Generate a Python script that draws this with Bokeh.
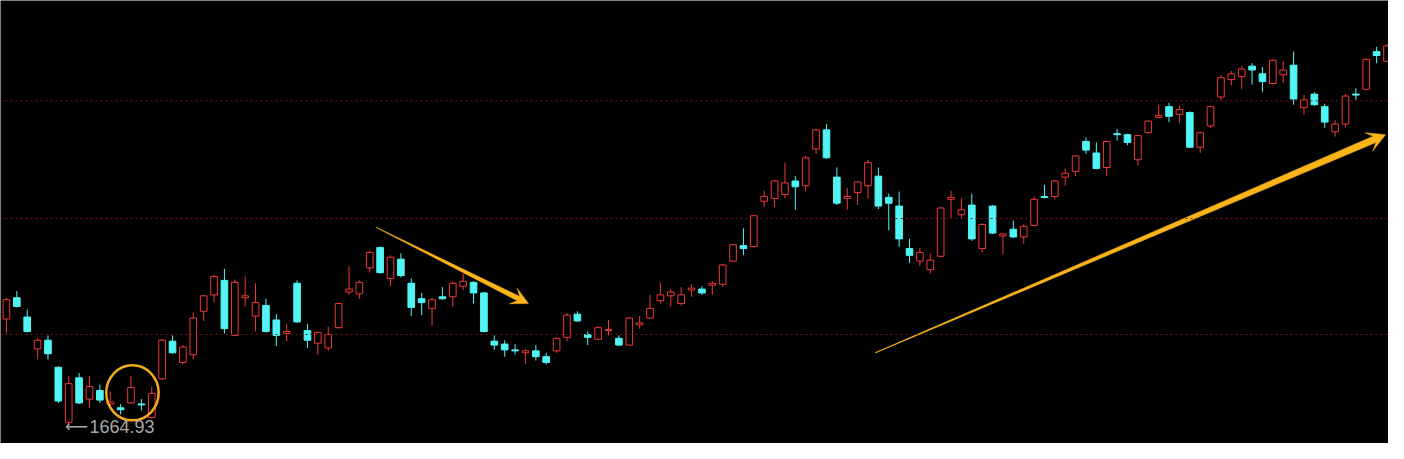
import math
from bokeh.plotting import figure
from bokeh.models import ColumnDataSource, Span, Range1d
from bokeh.embed import file_html
from bokeh.resources import INLINE
from bokeh.core.properties import value

# ---- candle data (index price) ----
opens = [1885, 1929, 1889, 1823, 1841, 1785, 1671, 1763, 1719, 1737,
         1709, 1701, 1711, 1709, 1681, 1761, 1839, 1795, 1811, 1901,
         1935, 1965, 1851, 1929, 1891, 1913, 1883, 1855, 1959, 1861,
         1835, 1825, 1867, 1941, 1937, 1991, 2033, 1969, 2009, 1959,
         1927, 1907, 1931, 1931, 1953, 1961, 1939, 1839, 1833, 1821,
         1815, 1819, 1807, 1819, 1847, 1895, 1853, 1843, 1861, 1845,
         1831, 1873, 1887, 1923, 1933, 1917, 1945, 1947, 1955, 1957,
         2005, 2037, 2035, 2129, 2135, 2143, 2171, 2161, 2237, 2277,
         2179, 2135, 2147, 2161, 2181, 2137, 2119, 2031, 2005, 1987,
         2015, 2133, 2101, 2121, 2031, 2119, 2057, 2071, 2055, 2079,
         2139, 2139, 2179, 2191, 2253, 2229, 2199, 2269, 2267, 2215,
         2271, 2303, 2325, 2309, 2313, 2241, 2285, 2345, 2381, 2387,
         2409, 2393, 2373, 2391, 2411, 2323, 2351, 2325, 2273, 2289,
         2351, 2361, 2439, 2419]
highs = [1929, 1943, 1905, 1845, 1851, 1787, 1767, 1773, 1767, 1749,
         1735, 1709, 1767, 1719, 1745, 1843, 1851, 1831, 1899, 1935,
         1977, 1989, 1967, 1973, 1959, 1927, 1895, 1875, 1965, 1875,
         1859, 1869, 1919, 1995, 1965, 2027, 2035, 2017, 2021, 1969,
         1939, 1929, 1951, 1963, 1979, 1963, 1941, 1851, 1841, 1833,
         1823, 1831, 1815, 1847, 1897, 1901, 1859, 1871, 1883, 1851,
         1889, 1891, 1935, 1961, 1947, 1951, 1957, 1953, 1963, 1999,
         2041, 2073, 2101, 2151, 2173, 2209, 2181, 2223, 2279, 2289,
         2199, 2157, 2171, 2215, 2199, 2145, 2149, 2051, 2033, 2021,
         2117, 2151, 2135, 2145, 2083, 2121, 2063, 2089, 2081, 2139,
         2163, 2173, 2197, 2225, 2261, 2251, 2255, 2279, 2269, 2267,
         2297, 2329, 2333, 2327, 2315, 2273, 2327, 2391, 2399, 2409,
         2415, 2407, 2423, 2419, 2439, 2349, 2355, 2331, 2297, 2351,
         2363, 2425, 2449, 2455]
lows = [1855, 1909, 1857, 1801, 1801, 1711, 1664.93, 1709, 1701, 1711,
        1703, 1687, 1709, 1695, 1679, 1759, 1813, 1791, 1801, 1881,
        1919, 1855, 1849, 1911, 1859, 1857, 1829, 1839, 1877, 1825,
        1811, 1819, 1865, 1935, 1927, 1981, 1979, 1953, 1971, 1891,
        1893, 1871, 1925, 1911, 1945, 1917, 1857, 1821, 1807, 1811,
        1791, 1799, 1791, 1815, 1839, 1879, 1831, 1841, 1851, 1829,
        1829, 1865, 1885, 1917, 1911, 1913, 1931, 1935, 1935, 1951,
        2003, 2017, 2033, 2117, 2117, 2135, 2111, 2149, 2227, 2217,
        2121, 2111, 2121, 2135, 2113, 2069, 2035, 2001, 1995, 1979,
        2013, 2095, 2095, 2047, 2023, 2061, 2019, 2053, 2041, 2077,
        2135, 2133, 2161, 2181, 2227, 2195, 2181, 2255, 2245, 2203,
        2269, 2301, 2293, 2291, 2239, 2229, 2281, 2339, 2369, 2361,
        2371, 2355, 2371, 2375, 2329, 2309, 2327, 2281, 2263, 2283,
        2339, 2359, 2415, 2417]
closes = [1925, 1911, 1859, 1841, 1813, 1715, 1751, 1711, 1745, 1717,
          1713, 1697, 1743, 1707, 1731, 1841, 1815, 1827, 1887, 1933,
          1973, 1865, 1961, 1933, 1919, 1859, 1851, 1859, 1879, 1841,
          1857, 1853, 1917, 1947, 1961, 2023, 1981, 2013, 1975, 1909,
          1919, 1925, 1927, 1959, 1963, 1939, 1859, 1831, 1821, 1819,
          1819, 1807, 1795, 1845, 1893, 1881, 1847, 1867, 1863, 1831,
          1887, 1877, 1907, 1935, 1941, 1935, 1949, 1939, 1959, 1997,
          2039, 2031, 2099, 2139, 2171, 2167, 2159, 2219, 2277, 2219,
          2125, 2139, 2169, 2209, 2119, 2125, 2051, 2017, 2023, 2007,
          2115, 2137, 2111, 2051, 2081, 2063, 2061, 2055, 2077, 2133,
          2137, 2171, 2187, 2223, 2235, 2197, 2253, 2267, 2251, 2265,
          2295, 2307, 2305, 2319, 2241, 2271, 2325, 2385, 2393, 2403,
          2401, 2377, 2421, 2401, 2341, 2339, 2329, 2293, 2289, 2347,
          2349, 2423, 2431, 2451]

low_label = "1664.93"
low_index = 6
grid_levels = [2337, 2093, 1853]

# annotations (candle index, price)
circle_center = (12.14, 1732)
circle_size = (5.05, 114)
arrow1 = (35.62, 2075, 50.29, 1917)
arrow2 = (83.71, 1815, 132.86, 2267)

RED = "#ee3838"
CYAN = "#52f5f5"
YELLOW = "#fbb41a"
ORANGE = "#f3a91e"
GRID = "#7d1414"

W, H = 1388, 443
X0, X1 = -6 / 10.5, 1398 / 10.5
Y0, Y1 = 1627, 2545
SX = W / (X1 - X0)   # px per candle
SY = H / (Y1 - Y0)   # px per price unit

p = figure(width=W, height=H,
           x_range=Range1d(X0, X1), y_range=Range1d(Y0, Y1),
           x_axis_type=None, y_axis_type=None,
           output_backend="svg", toolbar_location=None,
           min_border=0, background_fill_color="black",
           border_fill_color="black", outline_line_color=None)
p.grid.visible = False

for lvl in grid_levels:
    p.add_layout(Span(location=lvl, dimension="width", line_color=GRID,
                      line_dash="2 3", line_width=1))

n = len(opens)
up = [i for i in range(n) if closes[i] >= opens[i]]
dn = [i for i in range(n) if closes[i] < opens[i]]


def src(ids):
    return ColumnDataSource(dict(
        x=ids,
        top=[max(opens[i], closes[i]) for i in ids],
        bottom=[min(opens[i], closes[i]) for i in ids],
        high=[highs[i] for i in ids],
        low=[lows[i] for i in ids],
    ))


us = src(up)
ds = src(dn)
p.segment(x0="x", y0="high", x1="x", y1="low", source=us, line_color=RED, line_width=1)
p.vbar(x="x", width=0.64, top="top", bottom="bottom", source=us,
       fill_color="black", line_color=RED, line_width=1)
p.segment(x0="x", y0="high", x1="x", y1="low", source=ds, line_color=CYAN, line_width=1)
p.vbar(x="x", width=0.64, top="top", bottom="bottom", source=ds,
       fill_color=CYAN, line_color=CYAN, line_width=1)


def arrow_poly(x0, y0, x1, y1, w0, w1, hl, hw, notch):
    ax, ay, bx_, by_ = x0 * SX, y0 * SY, x1 * SX, y1 * SY
    dx, dy = bx_ - ax, by_ - ay
    L = math.hypot(dx, dy)
    ux, uy = dx / L, dy / L
    nx, ny = -uy, ux
    bx, by = bx_ - ux * (hl - notch), by_ - uy * (hl - notch)
    cx, cy = bx_ - ux * hl, by_ - uy * hl
    pts = [(ax + nx * w0 / 2, ay + ny * w0 / 2),
           (bx + nx * w1 / 2, by + ny * w1 / 2),
           (cx + nx * hw, cy + ny * hw),
           (bx_, by_),
           (cx - nx * hw, cy - ny * hw),
           (bx - nx * w1 / 2, by - ny * w1 / 2),
           (ax - nx * w0 / 2, ay - ny * w0 / 2)]
    return [q[0] / SX for q in pts], [q[1] / SY for q in pts]


xs1, ys1 = arrow_poly(*arrow1, 0.4, 5.0, 17, 8.7, 6)
xs2, ys2 = arrow_poly(*arrow2, 0.4, 7.0, 18, 9.8, 6)
p.patch(xs1, ys1, fill_color=YELLOW, line_color=YELLOW, line_width=0.5)
p.patch(xs2, ys2, fill_color=YELLOW, line_color=YELLOW, line_width=0.5)

p.ellipse(x=[circle_center[0]], y=[circle_center[1]],
          width=[circle_size[0]], height=[circle_size[1]],
          fill_color=None, line_color=ORANGE, line_width=2.5)

lab_y = lows[low_index] - 2
p.text(x=[low_index + 1.85], y=[lab_y], text=["⟵"],
       text_font=value("DejaVu Sans"), text_font_size="16px",
       text_color="#a8a8a8", text_baseline="middle", text_align="right")
p.text(x=[low_index + 2.0], y=[lab_y], text=[low_label],
       text_font=value("Liberation Sans"), text_font_size="18px",
       text_color="#a8a8a8", text_baseline="middle", text_align="left")

open("out.html", "w").write(file_html(p, INLINE))
